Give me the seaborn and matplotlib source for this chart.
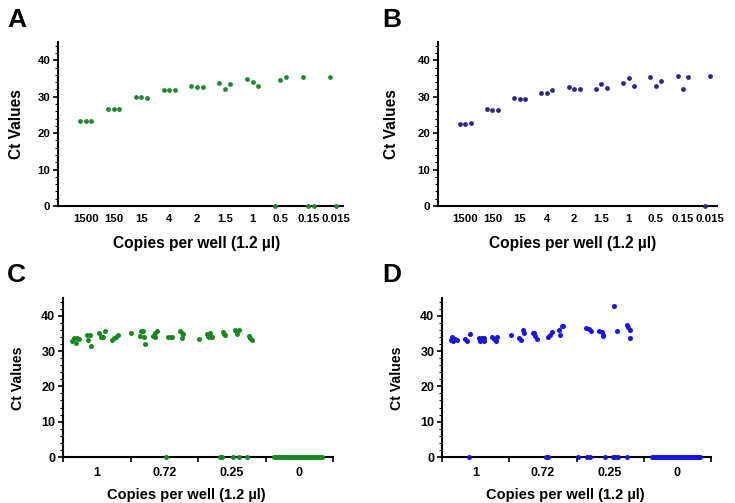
import numpy as np
import pandas as pd
import matplotlib
matplotlib.use('Agg')
import matplotlib.pyplot as plt
import seaborn as sns
from matplotlib.ticker import MultipleLocator, FixedLocator

# ---------------- data ----------------
ab_labels = ['1500', '150', '15', '4', '2', '1.5', '1', '0.5', '0.15', '0.015']
a_ct = [[23.2, 23.4, 23.4], [26.5, 26.7, 26.7], [29.8, 29.8, 29.7], [31.9, 31.9, 31.9],
        [33.0, 32.7, 32.7], [33.7, 32.2, 33.6], [34.8, 34.0, 33.0], [0.0, 34.6, 35.4],
        [35.4, 0.0, 0.0], [35.4, 0.0]]
b_ct = [[22.5, 22.5, 22.7], [26.5, 26.3, 26.3], [29.6, 29.4, 29.4], [31.0, 31.0, 31.8],
        [32.7, 32.2, 32.2], [32.1, 33.5, 32.5], [33.8, 35.1, 32.9], [35.4, 33.0, 34.4],
        [35.8, 32.1, 35.4], [0.0, 35.7]]

cd_labels = ['1', '0.72', '0.25', '0']
zero_line_off = [-0.38, -0.35, -0.32, -0.29, -0.26, -0.23, -0.20, -0.17, -0.14, -0.11, -0.08,
                 -0.05, -0.02, 0.01, 0.04, 0.07, 0.10, 0.13, 0.16, 0.19, 0.22, 0.25, 0.28,
                 0.31, 0.34]
zero_line_ct = [0, 0, 0, 0, 0, 0, 0, 0, 0, 0, 0, 0, 0, 0, 0, 0, 0, 0, 0, 0, 0, 0, 0, 0, 0]

c_off = [
    [-0.36, -0.34, -0.31, -0.29, -0.27, -0.15, -0.13, -0.10, -0.08, 0.04, 0.06, 0.09, 0.12,
     0.23, 0.25, 0.29, 0.32],
    [-0.49, -0.36, -0.34, -0.31, -0.30, -0.28, -0.16, -0.14, -0.11, -0.13, 0.06, 0.10, 0.12,
     0.23, 0.26, 0.28, 0.26, 0.03],
    [-0.49, -0.37, -0.35, -0.32, -0.33, -0.30, -0.13, -0.11, -0.10, 0.05, 0.07, 0.08, 0.10,
     0.25, 0.27, 0.30, -0.17, -0.14, 0.02, 0.11, 0.22],
    zero_line_off,
]
c_ct = [
    [32.9, 33.6, 32.4, 33.8, 33.3, 34.5, 33.1, 34.4, 31.5, 35.0, 33.9, 33.9, 35.8,
     33.1, 33.6, 34.1, 34.4],
    [35.0, 34.3, 35.7, 35.7, 33.9, 32.0, 34.3, 35.2, 35.7, 33.9, 33.9, 33.9, 34.1,
     35.7, 35.2, 34.8, 33.8, 0.0],
    [33.4, 34.8, 34.3, 35.0, 33.9, 33.9, 35.5, 34.8, 34.4, 36.0, 35.7, 34.8, 36.0,
     34.3, 33.6, 33.1, 0.0, 0.0, 0.0, 0.0, 0.0],
    zero_line_ct,
]
d_off = [
    [-0.36, -0.35, -0.33, -0.30, -0.28, -0.16, -0.13, -0.08, 0.05, 0.07, 0.09, 0.12, 0.13,
     0.25, 0.27, 0.30, 0.32, -0.10],
    [-0.48, -0.36, -0.32, -0.29, -0.28, -0.15, -0.13, -0.12, -0.08, 0.08, 0.10, 0.13, 0.24,
     0.26, 0.28, 0.30, 0.05, 0.07],
    [-0.36, -0.32, -0.29, -0.16, -0.12, -0.11, -0.10, 0.06, 0.10, 0.25, 0.26, 0.29, 0.30,
     -0.48, -0.34, -0.30, -0.08, 0.04, 0.07, 0.12, 0.25],
    zero_line_off,
]
d_ct = [
    [33.1, 33.9, 32.7, 33.3, 33.1, 33.3, 32.7, 34.8, 33.6, 32.7, 33.6, 32.9, 33.6,
     33.9, 33.3, 32.7, 33.9, 0.0],
    [34.4, 33.6, 33.1, 36.0, 35.0, 35.2, 35.2, 34.3, 33.3, 33.9, 34.5, 35.5, 36.0,
     34.6, 37.1, 37.1, 0.0, 0.0],
    [36.6, 36.1, 35.8, 35.8, 35.5, 34.5, 34.3, 42.7, 35.7, 37.4, 36.9, 33.6, 36.0,
     0.0, 0.0, 0.0, 0.0, 0.0, 0.0, 0.0, 0.0],
    zero_line_ct,
]

# ---------------- style ----------------
sns.set_style('ticks')
plt.rcParams['font.family'] = ['Liberation Sans', 'DejaVu Sans']
plt.rcParams['font.weight'] = 'bold'
for key in ('text.color', 'axes.labelcolor', 'xtick.color', 'ytick.color', 'axes.edgecolor'):
    plt.rcParams[key] = 'black'

W, H = 735, 503
fig = plt.figure(figsize=(W / 100, H / 100), dpi=100)


def px_axes(left, top, right, bottom):
    return fig.add_axes([left / W, 1 - bottom / H, (right - left) / W, (bottom - top) / H])


def replicate_frame(ct_lists):
    rows = []
    for i, vals in enumerate(ct_lists):
        for j, v in enumerate(vals):
            rows.append({'pos': i + (j - 1) * 0.2, 'ct': v})
    return pd.DataFrame(rows)


def offset_frame(off_lists, ct_lists):
    rows = []
    for i, (offs, vals) in enumerate(zip(off_lists, ct_lists)):
        for o, v in zip(offs, vals):
            rows.append({'pos': i + o, 'ct': v})
    return pd.DataFrame(rows)


def style_common(ax, tick_fs):
    sns.despine(ax=ax)
    for s in ('left', 'bottom'):
        ax.spines[s].set_linewidth(1.5)
        ax.spines[s].set_color('black')
    ax.set_ylim(0, 45)
    ax.yaxis.set_major_locator(FixedLocator([0, 10, 20, 30, 40]))
    ax.yaxis.set_minor_locator(MultipleLocator(2))
    ax.tick_params(axis='y', which='major', length=3.5, width=1.2, labelsize=tick_fs, pad=2,
                   colors='black')
    ax.tick_params(axis='y', which='minor', length=2, width=0.8, colors='black')
    for lab in ax.get_yticklabels():
        lab.set_fontweight('bold')
    ax.set_xlabel('')
    ax.set_ylabel('')


def panel_ab(ax, ct_lists, color):
    df = replicate_frame(ct_lists)
    sns.scatterplot(data=df, x='pos', y='ct', ax=ax, color=color, s=12, linewidth=0,
                    clip_on=False, zorder=5, legend=False)
    ax.set_xlim(-1, 9.25)
    style_common(ax, 8.2)
    ax.set_xticks(range(len(ab_labels)))
    ax.set_xticklabels(ab_labels, fontweight='bold')
    ax.tick_params(axis='x', length=0, labelsize=8.2, pad=6, colors='black')


def panel_cd(ax, off_lists, ct_lists, color):
    df = offset_frame(off_lists, ct_lists)
    sns.scatterplot(data=df, x='pos', y='ct', ax=ax, color=color, s=13, linewidth=0,
                    clip_on=False, zorder=5, legend=False)
    ax.set_xlim(-0.5, 3.5)
    style_common(ax, 9)
    ax.xaxis.set_major_locator(FixedLocator([-0.5, 0.5, 1.5, 2.5, 3.5]))
    ax.xaxis.set_minor_locator(FixedLocator([0, 1, 2, 3]))
    ax.xaxis.set_major_formatter(plt.NullFormatter())
    ax.xaxis.set_minor_formatter(plt.FixedFormatter(cd_labels))
    ax.tick_params(axis='x', which='major', length=3.5, width=1.2, colors='black')
    ax.tick_params(axis='x', which='minor', length=0, labelsize=9, pad=7, colors='black')
    for lab in ax.xaxis.get_minorticklabels():
        lab.set_fontweight('bold')


axA = px_axes(58, 42, 343, 206)
panel_ab(axA, a_ct, '#1f8a2c')
axB = px_axes(438, 42, 717, 206)
panel_ab(axB, b_ct, '#2b2888')
axC = px_axes(63, 298, 333, 457)
panel_cd(axC, c_off, c_ct, '#168a1e')
axD = px_axes(442, 298, 711, 457)
panel_cd(axD, d_off, d_ct, '#1414e4')


def ftext(x, y, s, **kw):
    fig.text(x / W, 1 - y / H, s, color='black', **kw)


for (x, y, s) in [(7, 8, 'A'), (382, 8, 'B'), (7, 263, 'C'), (382, 263, 'D')]:
    ftext(x, y, s, fontsize=19, fontweight='bold', ha='left', va='top')

for (x, y) in [(16.5, 124), (392, 124)]:
    ftext(x, y, 'Ct Values', fontsize=11.2, fontweight='bold', rotation=90, ha='center', va='center')
for (x, y) in [(197, 243), (573, 243)]:
    ftext(x, y, 'Copies per well (1.2 µl)', fontsize=11.2, fontweight='bold', ha='center', va='center')
for (x, y) in [(18, 378), (397, 378)]:
    ftext(x, y, 'Ct Values', fontsize=10.2, fontweight='bold', rotation=90, ha='center', va='center')
for (x, y) in [(186, 495), (565, 495)]:
    ftext(x, y, 'Copies per well (1.2 µl)', fontsize=10.5, fontweight='bold', ha='center', va='center')

fig.savefig('out.png', dpi=100)
